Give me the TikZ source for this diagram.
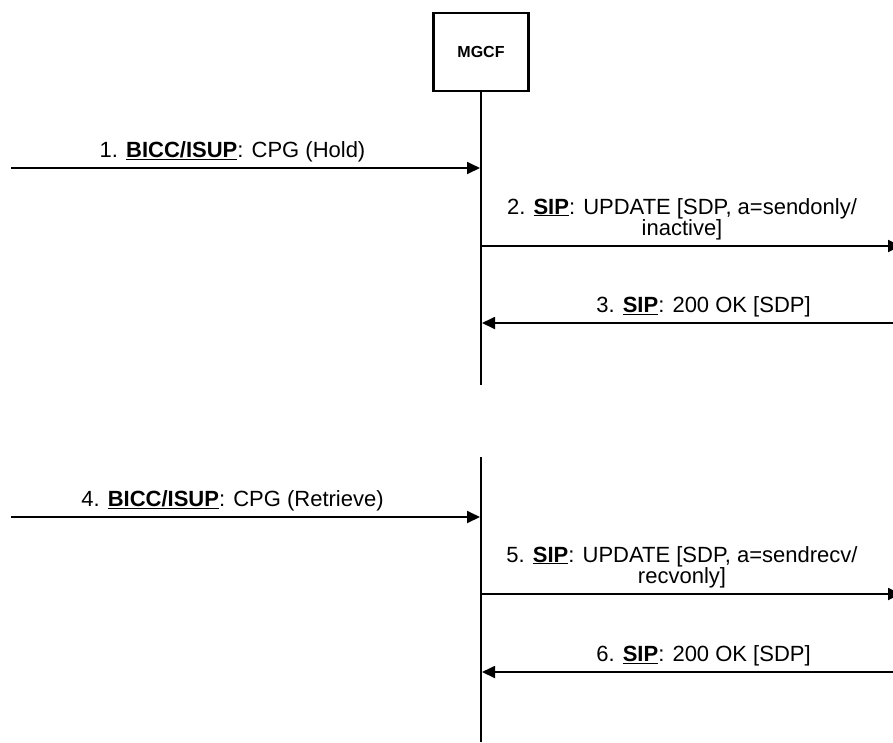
\documentclass[tikz,border=0pt]{standalone}
\usepackage{fontspec}
\setmainfont{Liberation Sans}
\usetikzlibrary{arrows.meta,positioning}

\begin{document}
\begin{tikzpicture}[x=1pt,y=-1pt,
    >={Triangle[length=13pt,width=12pt]},
    msg/.style={font=\fontsize{22}{20}\selectfont, align=center, inner sep=0pt},
    life/.style={line width=2pt}]
    \useasboundingbox (0,0) rectangle (893,742);

    \node[draw, line width=2.5pt, minimum width=95pt, minimum height=78pt,
          font=\fontsize{16}{18}\selectfont\bfseries] (mgcf) at (481,52) {MGCF};

    % lifelines
    \coordinate (e1) at (481,385);
    \coordinate (s2) at (481,457);
    \coordinate (e2) at (481,742);
    \draw[life] (mgcf.south) -- (e1);
    \draw[life] (s2) -- (e2);

    % message ends
    \coordinate (l1) at (11,168);  \coordinate (m1) at (480,168);
    \coordinate (m2) at (481,246); \coordinate (r2) at (901,246);
    \coordinate (r3) at (901,323); \coordinate (m3) at (482,323);
    \coordinate (l4) at (11,517);  \coordinate (m4) at (480,517);
    \coordinate (m5) at (481,594); \coordinate (r5) at (901,594);
    \coordinate (r6) at (901,672); \coordinate (m6) at (482,672);

    \path [->, line width=1.8pt]
    (l1) edge node[msg, above=5pt, xshift=-13pt]
         {1. \textbf{\underline{BICC/ISUP}}: CPG (Hold)} (m1)
    (m2) edge node[msg, above=5pt, xshift=-9pt]
         {2. \textbf{\underline{SIP}}: UPDATE [SDP, a=sendonly/\\inactive]} (r2)
    (r3) edge node[msg, above=5pt, xshift=12pt]
         {3. \textbf{\underline{SIP}}: 200 OK [SDP]} (m3)
    (l4) edge node[msg, above=5pt, xshift=-13pt]
         {4. \textbf{\underline{BICC/ISUP}}: CPG (Retrieve)} (m4)
    (m5) edge node[msg, above=5pt, xshift=-9pt]
         {5. \textbf{\underline{SIP}}: UPDATE [SDP, a=sendrecv/\\recvonly]} (r5)
    (r6) edge node[msg, above=5pt, xshift=12pt]
         {6. \textbf{\underline{SIP}}: 200 OK [SDP]} (m6);

\end{tikzpicture}
\end{document}
